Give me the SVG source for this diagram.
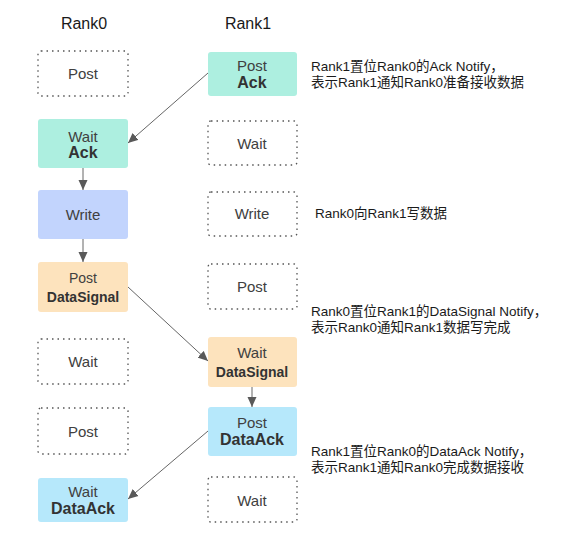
<svg xmlns="http://www.w3.org/2000/svg" width="588" height="540" viewBox="0 0 588 540">
<defs>
<style>
.hd{font-family:"Liberation Sans","Noto Sans CJK SC",sans-serif;font-size:16px;fill:#1a1a1a;text-anchor:middle}
.t{font-family:"Liberation Sans","Noto Sans CJK SC",sans-serif;font-size:15px;fill:#404040;text-anchor:middle}
.b{font-family:"Liberation Sans","Noto Sans CJK SC",sans-serif;font-size:16px;font-weight:bold;fill:#333333;text-anchor:middle}
.note{font-family:"Liberation Sans","Noto Sans CJK SC",sans-serif;font-size:13.5px;fill:#1a1a1a}
.dot{fill:#ffffff;stroke:#555555;stroke-width:1.3;stroke-dasharray:1.5 4}
.teal{fill:#adefe0}
.blue{fill:#c2d4fd}
.orange{fill:#fde3bd}
.sky{fill:#b6e8fb}
.ln{stroke:#666666;stroke-width:1;fill:none;marker-end:url(#ah)}
</style>
<marker id="ah" viewBox="0 0 10 10" refX="10" refY="5" markerWidth="10" markerHeight="10" markerUnits="userSpaceOnUse" orient="auto">
<path d="M0,0.5 L10,5 L0,9.5 Z" fill="#595959"/>
</marker>
</defs>
<rect width="588" height="540" fill="#ffffff"/>
<text class="hd" x="84" y="29">Rank0</text>
<text class="hd" x="248" y="29">Rank1</text>

<g id="r0-post1"><rect class="dot" x="38" y="51" width="90" height="45" rx="3"/><text class="t" x="83" y="79">Post</text></g>
<g id="r0-wait-ack"><rect class="teal" x="38" y="119" width="90" height="49" rx="3"/><text class="t" x="83" y="142">Wait</text><text class="b" x="83" y="158">Ack</text></g>
<g id="r0-write"><rect class="blue" x="38" y="190" width="90" height="49" rx="3"/><text class="t" x="83" y="220">Write</text></g>
<g id="r0-post-datasignal"><rect class="orange" x="38" y="262" width="90" height="50" rx="3"/><text class="t" x="83" y="283" style="font-size:14px">Post</text><text class="b" x="83" y="302" style="font-size:14px">DataSignal</text></g>
<g id="r0-wait5"><rect class="dot" x="38" y="339" width="90" height="45" rx="3"/><text class="t" x="83" y="367">Wait</text></g>
<g id="r0-post6"><rect class="dot" x="38" y="408" width="90" height="46" rx="3"/><text class="t" x="83" y="437">Post</text></g>
<g id="r0-wait-dataack"><rect class="sky" x="38" y="478" width="90" height="44" rx="3"/><text class="t" x="83" y="497">Wait</text><text class="b" x="83" y="514">DataAck</text></g>

<g id="r1-post-ack"><rect class="teal" x="208" y="52" width="89" height="44" rx="3"/><text class="t" x="252" y="71">Post</text><text class="b" x="252" y="88">Ack</text></g>
<g id="r1-wait2"><rect class="dot" x="208" y="121" width="89" height="44" rx="3"/><text class="t" x="252" y="149">Wait</text></g>
<g id="r1-write3"><rect class="dot" x="208" y="192" width="89" height="44" rx="3"/><text class="t" x="252" y="219">Write</text></g>
<g id="r1-post4"><rect class="dot" x="208" y="264" width="89" height="45" rx="3"/><text class="t" x="252" y="292">Post</text></g>
<g id="r1-wait-datasignal"><rect class="orange" x="208" y="337" width="89" height="50" rx="3"/><text class="t" x="252" y="358">Wait</text><text class="b" x="252" y="377" style="font-size:14px">DataSignal</text></g>
<g id="r1-post-dataack"><rect class="sky" x="208" y="407" width="89" height="49" rx="3"/><text class="t" x="252" y="428">Post</text><text class="b" x="252" y="445">DataAck</text></g>
<g id="r1-wait7"><rect class="dot" x="208" y="477" width="89" height="45" rx="3"/><text class="t" x="252" y="506">Wait</text></g>

<g id="connectors">
<line class="ln" x1="208" y1="73" x2="128" y2="143"/>
<line class="ln" x1="83" y1="168" x2="83" y2="190"/>
<line class="ln" x1="83" y1="239" x2="83" y2="262"/>
<line class="ln" x1="128" y1="287" x2="208" y2="361"/>
<line class="ln" x1="252" y1="387" x2="252" y2="407"/>
<line class="ln" x1="208" y1="431" x2="128" y2="499"/>
</g>

<g id="notes">
<text class="note" x="311" y="71">Rank1置位Rank0的Ack Notify，</text>
<text class="note" x="311" y="87">表示Rank1通知Rank0准备接收数据</text>
<text class="note" x="315" y="218">Rank0向Rank1写数据</text>
<text class="note" x="311" y="316">Rank0置位Rank1的DataSignal Notify，</text>
<text class="note" x="311" y="332">表示Rank0通知Rank1数据写完成</text>
<text class="note" x="311" y="456">Rank1置位Rank0的DataAck Notify，</text>
<text class="note" x="311" y="472">表示Rank1通知Rank0完成数据接收</text>
</g>
</svg>
